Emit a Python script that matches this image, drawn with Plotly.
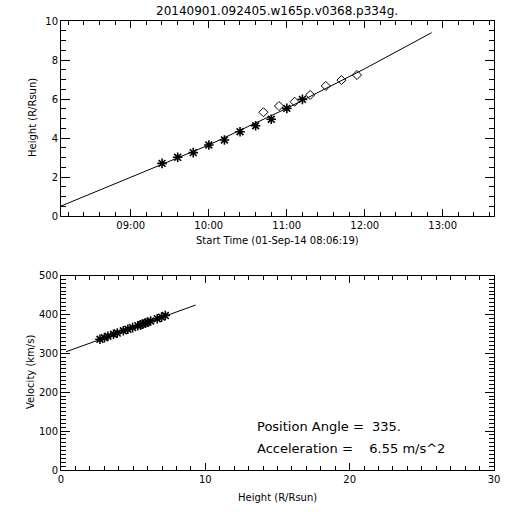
import plotly.graph_objects as go

# ---------------- data ----------------
c2_times = ["2014-09-01 09:24:05", "2014-09-01 09:36:05", "2014-09-01 09:48:05",
            "2014-09-01 10:00:05", "2014-09-01 10:12:05", "2014-09-01 10:24:05",
            "2014-09-01 10:36:05", "2014-09-01 10:48:05", "2014-09-01 11:00:05",
            "2014-09-01 11:12:05"]
c2_heights = [2.70, 3.01, 3.25, 3.64, 3.90, 4.32, 4.63, 4.96, 5.52, 5.98]

c3_times = ["2014-09-01 10:42:05", "2014-09-01 10:54:05", "2014-09-01 11:06:05",
            "2014-09-01 11:18:05", "2014-09-01 11:30:05", "2014-09-01 11:42:05",
            "2014-09-01 11:54:05"]
c3_heights = [5.32, 5.64, 5.86, 6.21, 6.67, 6.97, 7.23]

fit_times = ["2014-09-01 08:06:19", "2014-09-01 09:00:00", "2014-09-01 10:00:00",
             "2014-09-01 11:00:00", "2014-09-01 12:00:00", "2014-09-01 12:51:30"]
fit_heights = [0.51, 1.98, 3.64, 5.52, 7.55, 9.40]

vel_heights = [2.70, 3.01, 3.25, 3.64, 3.90, 4.32, 4.63, 4.96, 5.32, 5.52,
               5.64, 5.86, 5.98, 6.21, 6.67, 6.97, 7.23]
vel_values = [336, 340, 344, 349, 352, 358, 362, 366, 371, 373,
              375, 378, 380, 383, 389, 393, 397]

vfit_heights = [0.35, 9.33]
vfit_values = [304, 424]

title_text = "20140901.092405.w165p.v0368.p334g."
xtitle_top = "Start Time (01-Sep-14 08:06:19)"
ytitle_top = "Height (R/Rsun)"
xtitle_bot = "Height (R/Rsun)"
ytitle_bot = "Velocity (km/s)"
pa_text = "Position Angle =&nbsp;&nbsp;335."
acc_text = "Acceleration =&nbsp;&nbsp;&nbsp;&nbsp;6.55 m/s^2"

# ---------------- layout geometry ----------------
# the page body margin is removed in post_script, so the figure fills 512x512
FW = FH = 512
L, R, T, B = 61, 18, 21, 42
W = FW - L - R
H = FH - T - B


def px(x):  # page x pixel -> paper fraction
    return (x - L) / W


def py(y):  # page y pixel -> paper fraction
    return (FH - B - y) / H


FONT = "DejaVu Sans"
blk = "black"

fig = go.Figure()

fig.add_trace(go.Scatter(x=fit_times, y=fit_heights, mode="lines",
                         line=dict(color=blk, width=1), xaxis="x", yaxis="y",
                         hoverinfo="skip"))
fig.add_trace(go.Scatter(x=c2_times, y=c2_heights, mode="markers",
                         marker=dict(symbol="asterisk-open", size=8, color=blk,
                                     line=dict(color=blk, width=1.6)),
                         xaxis="x", yaxis="y"))
fig.add_trace(go.Scatter(x=c3_times, y=c3_heights, mode="markers",
                         marker=dict(symbol="diamond-open", size=7, color=blk,
                                     line=dict(color=blk, width=1)),
                         xaxis="x", yaxis="y"))

fig.add_trace(go.Scatter(x=vfit_heights, y=vfit_values, mode="lines",
                         line=dict(color=blk, width=1), xaxis="x2", yaxis="y2",
                         hoverinfo="skip"))
fig.add_trace(go.Scatter(x=vel_heights, y=vel_values, mode="markers",
                         marker=dict(symbol="asterisk-open", size=8, color=blk,
                                     line=dict(color=blk, width=1.6)),
                         xaxis="x2", yaxis="y2"))

top_bottom = 216
bot_top = 275.5

axis_common = dict(showline=True, linecolor=blk, linewidth=1, mirror="allticks",
                   ticks="inside", tickcolor=blk, tickwidth=1, showgrid=False,
                   zeroline=False, tickfont=dict(family=FONT, size=10, color=blk))

fig.update_layout(
    template="none",
    width=FW, height=FH, showlegend=False,
    paper_bgcolor="white", plot_bgcolor="white",
    margin=dict(l=L, r=R, t=T, b=B, pad=0),
    xaxis=dict(axis_common, type="date", domain=[0, 1], anchor="y",
               range=["2014-09-01 08:06:19", "2014-09-01 13:39:30"],
               tick0="2014-09-01 09:00:00", dtick=3600000, tickformat="%H:%M",
               ticklen=7,
               minor=dict(ticks="inside", dtick=720000, ticklen=4, tickcolor=blk,
                          tickwidth=1, showgrid=False, tick0="2014-09-01 09:00:00")),
    yaxis=dict(axis_common, domain=[py(top_bottom), 1], anchor="x",
               range=[0, 10], tick0=0, dtick=2, ticklen=9,
               minor=dict(ticks="inside", dtick=0.5, ticklen=5, tickcolor=blk,
                          tickwidth=1, showgrid=False)),
    xaxis2=dict(axis_common, domain=[0, 1], anchor="y2",
                range=[0, 30], tick0=0, dtick=10, ticklen=7,
                minor=dict(ticks="inside", dtick=1, ticklen=4, tickcolor=blk,
                           tickwidth=1, showgrid=False)),
    yaxis2=dict(axis_common, domain=[0, py(bot_top)], anchor="x2",
                range=[0, 500], tick0=0, dtick=100, ticklen=9,
                minor=dict(ticks="inside", dtick=10, ticklen=5, tickcolor=blk,
                           tickwidth=1, showgrid=False)),
)

ann = [
    dict(text=title_text, x=px(277), y=py(11), size=12, xanchor="center"),
    dict(text=xtitle_top, x=px(277), y=py(241), size=10, xanchor="center"),
    dict(text=xtitle_bot, x=px(277), y=py(497), size=10, xanchor="center"),
    dict(text=pa_text, x=px(255), y=py(426), size=13, xanchor="left"),
    dict(text=acc_text, x=px(255), y=py(448), size=13, xanchor="left"),
]
for a in ann:
    fig.add_annotation(text=a["text"], xref="paper", yref="paper", x=a["x"], y=a["y"],
                       xanchor=a["xanchor"], yanchor="middle", showarrow=False,
                       font=dict(family=FONT, size=a["size"], color=blk))

fig.add_annotation(text=ytitle_top, xref="paper", yref="paper", x=px(32), y=py(118),
                   xanchor="center", yanchor="middle", textangle=-90, showarrow=False,
                   font=dict(family=FONT, size=10, color=blk))
fig.add_annotation(text=ytitle_bot, xref="paper", yref="paper", x=px(30), y=py(372),
                   xanchor="center", yanchor="middle", textangle=-90, showarrow=False,
                   font=dict(family=FONT, size=10, color=blk))

fig.write_html("out.html",
               config={"displayModeBar": False, "staticPlot": True},
               post_script="document.body.style.margin='0';document.body.style.overflow='hidden';")
